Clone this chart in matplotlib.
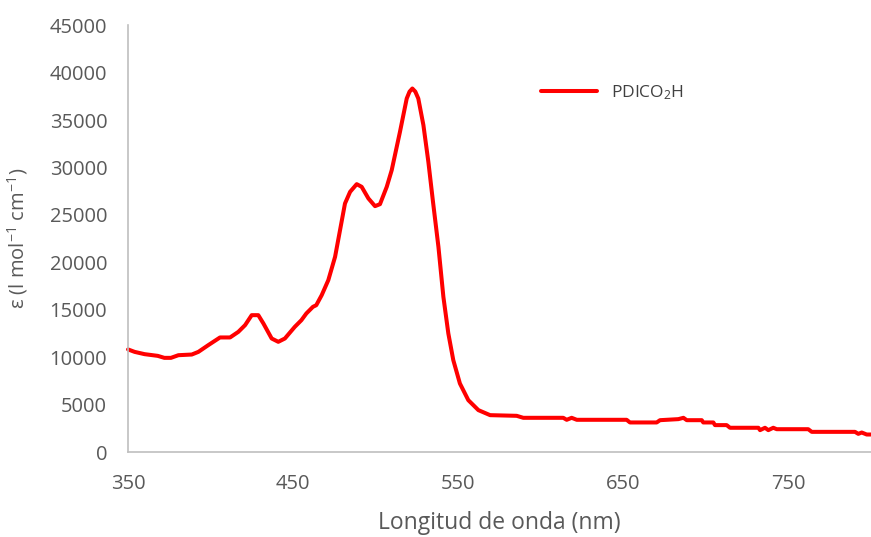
import matplotlib
matplotlib.use("Agg")
import matplotlib.pyplot as plt

plt.rcParams['font.family'] = ['Open Sans', 'DejaVu Sans']
plt.rcParams['mathtext.fontset'] = 'custom'
plt.rcParams['mathtext.rm'] = 'Open Sans'
plt.rcParams['mathtext.it'] = 'Open Sans:italic'

# Absorption spectrum of PDICO2H
wavelength = [350, 354, 360, 368, 372, 376, 380.5, 388.6, 392.6, 398.6, 405.7, 411.8,
              416.8, 420.9, 424.9, 428.9, 432, 437, 441, 445, 451, 455, 458, 462, 464,
              467.3, 471.3, 475.4, 478.4, 481.4, 484.5, 488.5, 491.5, 495.6, 499.6,
              502.6, 506.7, 509.7, 514.7, 518.8, 520.5, 522.2, 524, 525.8, 528.9, 531.9, 534.7,
              538, 541, 544, 547, 551, 556.1, 562.2, 569.3, 585.4, 589.4, 613.6,
              615.7, 618.7, 621.8, 652, 654, 670.2, 672.2, 683.3, 686.4, 688.4,
              697.5, 698.4, 704.5, 705.5, 712.6, 714.6, 731.8, 732.8, 735.8, 737.8,
              740.8, 742.9, 762, 764.1, 790.3, 792.3, 794.4, 797.4, 800]
epsilon = [10830, 10570, 10330, 10150, 9940, 9940, 10220, 10290, 10570, 11280, 12090, 12090,
           12680, 13390, 14440, 14440, 13560, 11980, 11630, 11980, 13210, 13910, 14620, 15320, 15490,
           16550, 18130, 20590, 23400, 26210, 27440, 28250, 27970, 26740, 25930,
           26140, 27970, 29720, 33760, 37280, 38000, 38330, 38000, 37280, 34470, 30600, 26400,
           21640, 16370, 12510, 9700, 7240, 5480, 4430, 3900, 3830, 3620, 3620,
           3410, 3620, 3410, 3410, 3130, 3130, 3370, 3480, 3620, 3370,
           3370, 3130, 3130, 2850, 2850, 2570, 2570, 2320, 2570, 2320,
           2570, 2420, 2420, 2140, 2140, 1930, 2070, 1860, 1860]

x_ticks = [350, 450, 550, 650, 750]
y_ticks = [0, 5000, 10000, 15000, 20000, 25000, 30000, 35000, 40000, 45000]

grey = '#595959'
spine_grey = '#BFBFBF'

fig = plt.figure(figsize=(8.71, 5.37), dpi=100)
ax = fig.add_axes([0.147, 0.158, 0.853, 0.795])

ax.plot(wavelength, epsilon, color='#FF0000', linewidth=2.9, solid_joinstyle='round',
        solid_capstyle='round', label=r'PDICO$_2$H', clip_on=False)

ax.set_xlim(350, 800)
ax.set_ylim(0, 45000)
ax.set_xticks(x_ticks)
ax.set_yticks(y_ticks)
ax.set_xticklabels([str(v) for v in x_ticks])
ax.set_yticklabels([str(v) for v in y_ticks])
ax.tick_params(axis='both', length=0, labelsize=14.5, labelcolor=grey)
ax.tick_params(axis='x', pad=16)
ax.tick_params(axis='y', pad=15)

for side in ('top', 'right'):
    ax.spines[side].set_visible(False)
for side in ('left', 'bottom'):
    ax.spines[side].set_color(spine_grey)
    ax.spines[side].set_linewidth(1.2)

ax.set_xlabel('Longitud de onda (nm)', fontsize=16.5, color=grey, labelpad=12)
ax.set_ylabel(r'ε (l mol$^{\mathregular{-1}}$ cm$^{\mathregular{-1}}$)', fontsize=14.5,
              color=grey, labelpad=14)

leg = ax.legend(loc='center left', bbox_to_anchor=(0.535, 0.842), frameon=False,
                fontsize=12.5, handlelength=3.2, handletextpad=0.8)
for t in leg.get_texts():
    t.set_color('#404040')

fig.savefig('out.png', dpi=100, facecolor='white')
